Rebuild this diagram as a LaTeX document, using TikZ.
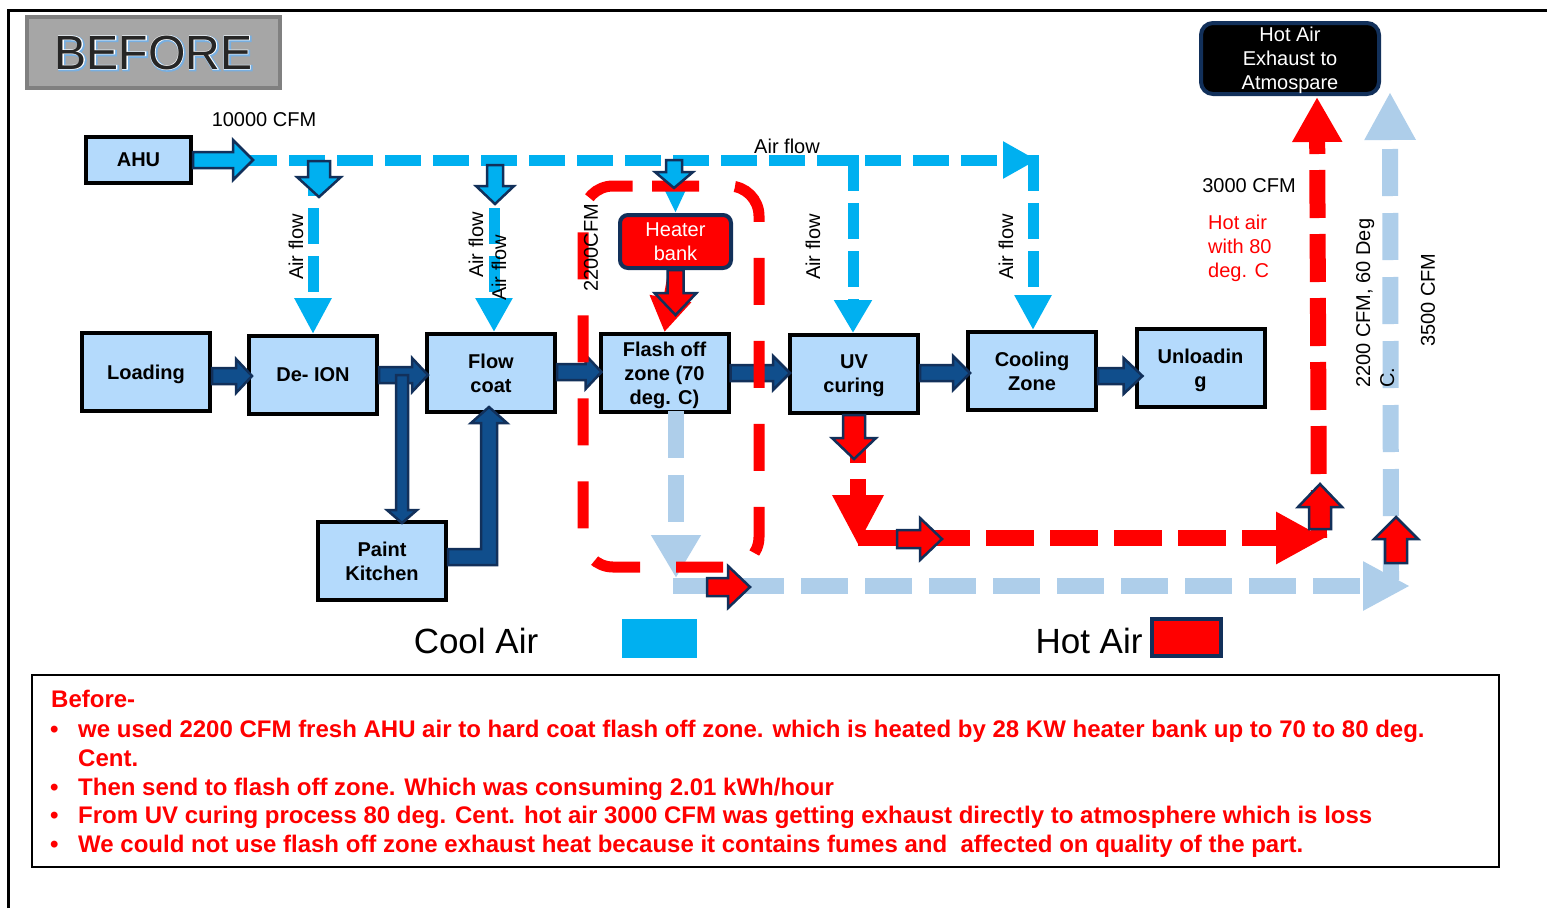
\documentclass[tikz,border=0pt]{standalone}
\usepackage{fontspec}
\setmainfont{Liberation Sans}
\newfontfamily\notefont{Liberation Sans}
\newfontfamily\glowfont{Liberation Sans}[FakeBold=6]
\newfontfamily\halofont{Liberation Sans}[FakeBold=2.5]
\usetikzlibrary{arrows.meta,calc}
\definecolor{boxblue}{RGB}{180,218,252}
\definecolor{cyanair}{RGB}{0,176,240}
\definecolor{lblue}{RGB}{174,206,234}
\definecolor{glow}{RGB}{120,175,225}
\definecolor{navy}{RGB}{18,48,90}
\definecolor{pblue}{RGB}{16,78,140}
\definecolor{hotred}{RGB}{255,0,0}
\definecolor{bgray}{RGB}{166,166,166}
\definecolor{bgrayd}{RGB}{128,128,128}
\newcommand\blkR[6]{\draw[#1] let \p1=(#2), \p2=(#3) in (\x1,\y1+#4) -- (\x2-#6,\y1+#4) -- (\x2-#6,\y1+#5) -- (\x2,\y1) -- (\x2-#6,\y1-#5) -- (\x2-#6,\y1-#4) -- (\x1,\y1-#4) -- cycle;}
\newcommand\blkD[6]{\draw[#1] let \p1=(#2), \p2=(#3) in (\x1-#4,\y1) -- (\x1-#4,\y2+#6) -- (\x1-#5,\y2+#6) -- (\x1,\y2) -- (\x1+#5,\y2+#6) -- (\x1+#4,\y2+#6) -- (\x1+#4,\y1) -- cycle;}
\newcommand\blkU[6]{\draw[#1] let \p1=(#2), \p2=(#3) in (\x1-#4,\y1) -- (\x1-#4,\y2-#6) -- (\x1-#5,\y2-#6) -- (\x1,\y2) -- (\x1+#5,\y2-#6) -- (\x1+#4,\y2-#6) -- (\x1+#4,\y1) -- cycle;}
\tikzset{
 proc/.style={draw=black, line width=4pt, fill=boxblue, minimum width=128pt, minimum height=78pt, inner sep=0pt, text depth=0pt, align=center, font=\fontsize{20}{24}\selectfont\bfseries},
 coolln/.style={cyanair, line width=11pt, dash pattern=on 36pt off 12pt},
 exhln/.style={lblue, line width=16pt, dash pattern=on 47pt off 17pt},
 hotln/.style={hotred, line width=16pt, dash pattern=on 48pt off 16pt},
 blkblue/.style={fill=pblue, draw=navy, line width=2.5pt, line join=miter},
 blkcyan/.style={fill=cyanair, draw=navy, line width=2.5pt, line join=miter},
 blkred/.style={fill=hotred, draw=navy, line width=2.5pt, line join=miter},
 lbl/.style={font=\fontsize{20}{24}\selectfont, inner sep=0pt},
 notetxt/.style={anchor=base west, inner sep=0pt, text=hotred, font=\notefont\bfseries\fontsize{24}{29}\selectfont},
 rbox/.style={line width=4pt, draw=navy, inner sep=0pt, text depth=0pt, align=center, text=white, font=\fontsize{20}{24}\selectfont},
 titletxt/.style={inner sep=0pt, font=\fontsize{48}{50}\selectfont},
}
\begin{document}
\begin{tikzpicture}[x=1pt,y=-1pt]
\fill[white] (0,0) rectangle (1547,908);
\useasboundingbox (0,0) rectangle (1547,908);
% frame
\draw[line width=3pt] (8,908) -- (8,10) -- (1547,10);
% BEFORE title
\node[draw=bgrayd, fill=bgray, line width=4pt, minimum width=253pt, minimum height=71pt, inner sep=0pt] (before) at (153.5,52.5) {};
\node[titletxt, text=glow] (bglow) at ($(before.center)+(1,1)$) {\glowfont BEFORE};
\node[titletxt, text=white] (bhalo) at (before.center) {\halofont BEFORE};
\node[titletxt, text=black!85] (btxt) at (before.center) {BEFORE};

% process boxes
\node[proc, minimum width=105pt, minimum height=46pt] (ahu) at (138.5,160) {AHU};
\node[proc] (load) at (146,372) {Loading};
\node[proc] (deion) at (313,375) {De- ION};
\node[proc] (flow) at (491,373) {Flow\\coat};
\node[proc] (paint) at (382,561) {Paint\\Kitchen};
\node[proc] (flash) at (664.5,373) {Flash off\\zone (70\\deg. C)};
\node[proc] (uv) at (854,374) {UV\\curing};
\node[proc] (cool) at (1032,371) {Cooling\\Zone};
\node[proc] (unload) at (1200.5,368) {Unloadin\\g};
\node[rbox, fill=hotred, rounded corners=8pt, minimum width=111pt, minimum height=53pt] (heater) at (675.5,241.5) {Heater\\bank};
\node[rbox, fill=black, rounded corners=12pt, minimum width=178pt, minimum height=71pt] (exhaust) at (1290,58.5) {Hot Air\\Exhaust to\\Atmospare};

% cool air (cyan) lines
\coordinate (c0) at (1037,160);
\draw[coolln, -{Triangle[length=34pt,width=35pt]}] (ahu.east) -- (c0);
\draw[coolln, -{Triangle[length=35pt,width=35pt]}] (1033,155) -- ($(cool.north)+(1,0)$);
\draw[coolln, -{Triangle[length=36pt,width=35pt]}] (313,160) -- (deion.north);
\draw[coolln, -{Triangle[length=34pt,width=35pt]}] (494,160) -- ($(flow.north)+(3,0)$);
\draw[coolln, -{Triangle[length=33pt,width=36pt]}] (853,155) -- ($(uv.north)+(-1,0)$);
\draw[cyanair, line width=8pt, -{Triangle[length=26pt,width=22pt]}] (675,165) -- (heater.north);

% exhaust (light blue) lines
\coordinate (lb1) at (676,578);
\coordinate (lb2) at (1410,586);
\coordinate (lb3) at (1390,92);
\draw[exhln, -{Triangle[length=43pt,width=47pt]}] ($(flash.south)+(11.5,-3)$) -- (lb1);
\draw[exhln, -{Triangle[length=47pt,width=46pt]}] (673,586) -- (lb2);
\draw[exhln, -{Triangle[length=48pt,width=48pt]}] (1391,580) -- (lb3);

% hot air (red) lines
\coordinate (h1) at (858,545);
\coordinate (h2) at (1325,538);
\coordinate (h3) at (1317,97);
\draw[hotln, -{Triangle[length=50pt,width=48pt]}] ($(uv.south)+(4,0)$) -- (h1);
\draw[hotln, -{Triangle[length=49pt,width=49pt]}] (858,538) -- (h2);
\draw[hotln, -{Triangle[length=45pt,width=47pt]}] (1319,538) -- (h3);
\draw[hotred, line width=14pt, -{Triangle[length=34pt,width=40pt]}] (heater.south) -- (flash.north);

% process block arrows
\blkR{blkblue}{$(load.east)+(0,4)$}{$(deion.west)+(5,4)$}{8pt}{17pt}{16pt}
\blkR{blkblue}{deion.east}{$(flow.west)+(3,0)$}{8pt}{17pt}{16pt}
\blkR{blkblue}{$(flow.east)+(0,-1)$}{$(flash.west)+(3,0)$}{8pt}{17pt}{16pt}
\blkR{blkblue}{flash.east}{$(uv.west)+(2,0)$}{8pt}{17pt}{17pt}
\blkR{blkblue}{$(uv.east)+(0,-1)$}{$(cool.west)+(4,0)$}{8pt}{17pt}{17pt}
\blkR{blkblue}{$(cool.east)+(0,5)$}{$(unload.west)+(8,0)$}{8pt}{18pt}{19pt}
\blkD{blkblue}{$(deion.east)+(23,0)$}{$(paint.north)+(0,3)$}{6pt}{15pt}{13pt}
\draw[blkblue] let \p1=($(paint.east)+(0,-4)$), \p2=($(flow.south)+(-2,-7)$) in
  (\x1,\y1+8pt) -- (\x2-8pt,\y1+8pt) -- (\x2-8pt,\y2-16pt) -- (\x2-18pt,\y2-16pt) -- (\x2,\y2)
  -- (\x2+18pt,\y2-16pt) -- (\x2+8pt,\y2-16pt) -- (\x2+8pt,\y1-8pt) -- (\x1,\y1-8pt) -- cycle;

% red dashed enclosure around heater / flash off
\draw[hotred, line width=11pt, dash pattern=on 47pt off 36pt, rounded corners=30pt]
  (652,186) -- (759,186) -- (759,567) -- (583,567) -- (583,186) -- (652,186);

% cyan block arrows
\blkR{blkcyan}{ahu.east}{$(ahu.east)+(60,0)$}{8pt}{20pt}{20pt}
\coordinate (a1s) at (319,161); \coordinate (a1e) at (319,197);
\coordinate (a2s) at (495,165); \coordinate (a2e) at (495,204);
\coordinate (a3s) at (674,160); \coordinate (a3e) at (674,188);
\blkD{blkcyan}{a1s}{a1e}{11pt}{22pt}{20pt}
\blkD{blkcyan}{a2s}{a2e}{8pt}{19pt}{18pt}
\blkD{blkcyan}{a3s}{a3e}{8pt}{19pt}{16pt}

% red block arrows
\blkD{blkred}{heater.south}{$(heater.south)+(0,45)$}{8pt}{21pt}{22pt}
\blkD{blkred}{uv.south}{$(uv.south)+(0,44)$}{11pt}{22pt}{21pt}
\coordinate (r1s) at (897,539); \coordinate (r1e) at (942,539);
\coordinate (r2s) at (1320,529); \coordinate (r2e) at (1320,484);
\coordinate (r3s) at (1396,563); \coordinate (r3e) at (1396,517);
\coordinate (r4s) at (707,587); \coordinate (r4e) at (750,587);
\blkR{blkred}{r1s}{r1e}{9pt}{21pt}{22pt}
\blkU{blkred}{r2s}{r2e}{11pt}{22pt}{23pt}
\blkU{blkred}{r3s}{r3e}{11pt}{22pt}{22pt}
\blkR{blkred}{r4s}{r4e}{9pt}{21pt}{22pt}

% labels
\node[lbl] (t10k) at (264,120) {10000 CFM};
\node[lbl] (tair) at (787,146) {Air flow};
\node[lbl, rotate=90] (taf1) at (296,247) {Air flow};
\node[lbl, rotate=90] (taf2) at (476,245) {Air flow};
\node[lbl, rotate=90] (taf3) at (499,268) {Air flow};
\node[lbl, rotate=90] (t2200) at (591,248) {2200CFM};
\node[lbl, rotate=90] (taf4) at (813,247) {Air flow};
\node[lbl, rotate=90] (taf5) at (1006,247) {Air flow};
\node[lbl] (t3000) at (1249,186) {3000 CFM};
\node[lbl, text=hotred, align=left, anchor=north west] (thot) at (1208,215) {Hot air\\with 80\\deg. C};
\node[lbl, rotate=90, align=left, anchor=north west] (t2200b) at (1356,388) {2200 CFM, 60 Deg\\C.};
\node[lbl, rotate=90] (t3500) at (1428,300) {3500 CFM};

% legend
\node[inner sep=0pt, font=\fontsize{35}{40}\selectfont] (tcool) at (476,641) {Cool Air};
\node[fill=cyanair, minimum width=75pt, minimum height=39pt, inner sep=0pt] (lcool) at (659.5,638.5) {};
\node[inner sep=0pt, font=\fontsize{35}{40}\selectfont] (thotair) at (1089,641) {Hot Air};
\node[fill=hotred, draw=navy, line width=4pt, minimum width=69pt, minimum height=37pt, inner sep=0pt] (lhot) at (1186.5,637.5) {};

% note box
\node[draw=black, line width=2pt, minimum width=1467pt, minimum height=192pt, inner sep=0pt] (note) at (765.5,771) {};
\node[notetxt] (n0) at (51,707) {Before-};
\node[notetxt] (bu1) at (50,737) {\textbullet};
\node[notetxt] (bu2) at (50,795) {\textbullet};
\node[notetxt] (bu3) at (50,823) {\textbullet};
\node[notetxt] (bu4) at (50,852) {\textbullet};
\node[notetxt] (n1) at (78,737) {we used 2200 CFM fresh AHU air to hard coat flash off zone. which is heated by 28 KW heater bank up to 70 to 80 deg.};
\node[notetxt] (n1b) at (78,766) {Cent.};
\node[notetxt] (n2) at (78,795) {Then send to flash off zone. Which was consuming 2.01 kWh/hour};
\node[notetxt] (n3) at (78,823) {From UV curing process 80 deg. Cent. hot air 3000 CFM was getting exhaust directly to atmosphere which is loss};
\node[notetxt] (n4) at (78,852) {We could not use flash off zone exhaust heat because it contains fumes and\ \ affected on quality of the part.};
\end{tikzpicture}
\end{document}
